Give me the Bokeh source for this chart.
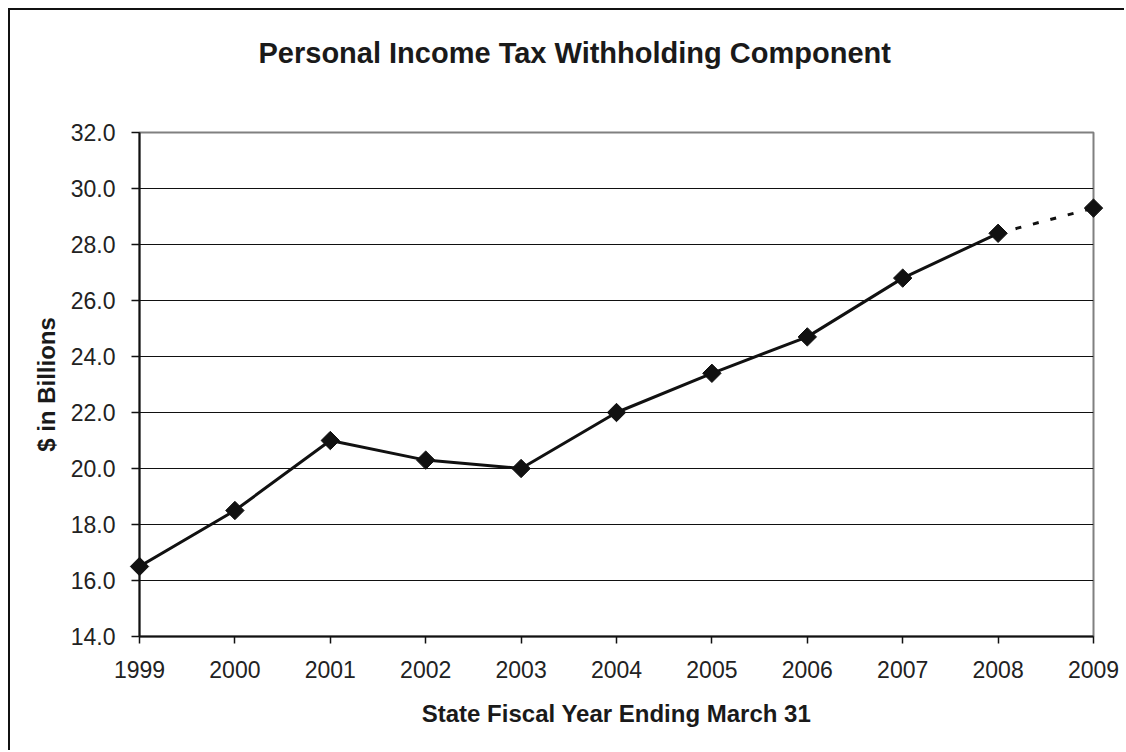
import math
from bokeh.plotting import figure
from bokeh.models import Range1d, FixedTicker, PrintfTickFormatter, Title
from bokeh.embed import file_html
from bokeh.resources import INLINE

# ---- data ----
years = [1999, 2000, 2001, 2002, 2003, 2004, 2005, 2006, 2007, 2008, 2009]
withholding = [16.5, 18.5, 21.0, 20.3, 20.0, 22.0, 23.4, 24.7, 26.8, 28.4, 29.3]
actual_years = years[:10]
actual_values = withholding[:10]
projected_years = years[9:]
projected_values = withholding[9:]
y_ticks = [14, 16, 18, 20, 22, 24, 26, 28, 30, 32]

title_text = "Personal Income Tax Withholding Component"
x_label = "State Fiscal Year Ending March 31"
y_label = "$ in Billions"

FONT = "Liberation Sans"

p = figure(
    width=1116, height=742,
    output_backend="svg", toolbar_location=None,
    x_range=Range1d(years[0], years[-1]),
    y_range=Range1d(y_ticks[0], y_ticks[-1]),
    min_border_left=129, min_border_right=33,
    min_border_top=122, min_border_bottom=116,
    background_fill_color="white", border_fill_color="white",
)
p.styles = {
    "margin-left": "8px", "margin-top": "8px",
    "border-left": "2px solid #111111", "border-top": "2px solid #111111",
}

# spacer between the frame and the chart title (closest panel to the frame)
spacer = Title(text="\u00a0", text_font=FONT, text_font_size="10px",
               standoff=25, text_color="white")
p.add_layout(spacer, "above")

# chart title
title = Title(
    text=title_text, align="left", offset=119, vertical_align="middle",
    standoff=49, text_font=FONT, text_font_size="29px",
    text_font_style="bold", text_color="#1a1a1a",
)
p.add_layout(title, "above")

# frame
p.outline_line_color = "#808080"
p.outline_line_width = 2
p.outline_line_alpha = 1.0

# grid
p.xgrid.visible = False
p.ygrid.ticker = FixedTicker(ticks=y_ticks)
p.ygrid.grid_line_color = "#111111"
p.ygrid.grid_line_width = 1.2

# axes
for ax in (p.xaxis[0], p.yaxis[0]):
    ax.axis_line_color = "#111111"
    ax.axis_line_width = 2
    ax.major_tick_line_color = "#111111"
    ax.major_tick_line_width = 1.5
    ax.major_tick_in = 0
    ax.minor_tick_line_color = None
    ax.major_label_text_font = FONT
    ax.major_label_text_font_size = "23px"
    ax.major_label_text_color = "#222222"
    ax.axis_label_text_font = FONT
    ax.axis_label_text_font_size = "24px"
    ax.axis_label_text_font_style = "bold"
    ax.axis_label_text_color = "#1a1a1a"

p.xaxis.ticker = FixedTicker(ticks=years)
p.xaxis.formatter = PrintfTickFormatter(format="%d")
p.xaxis.major_tick_out = 7
p.xaxis.major_label_standoff = 17
p.xaxis.axis_label = x_label
p.xaxis.axis_label_standoff = 19

p.yaxis.ticker = FixedTicker(ticks=y_ticks)
p.yaxis.formatter = PrintfTickFormatter(format="%.1f")
p.yaxis.major_tick_out = 8
p.yaxis.major_label_standoff = 16
p.yaxis.axis_label = y_label
p.yaxis.axis_label_standoff = 8

# series
p.line(actual_years, actual_values, line_color="#111111", line_width=3)
p.line(projected_years, projected_values, line_color="#111111", line_width=3,
       line_dash="6 12")
p.scatter(years, withholding, marker="square", angle=math.pi / 4, size=13,
          fill_color="#111111", line_color="#111111", level="overlay")

open("out.html", "w").write(file_html(p, INLINE))
